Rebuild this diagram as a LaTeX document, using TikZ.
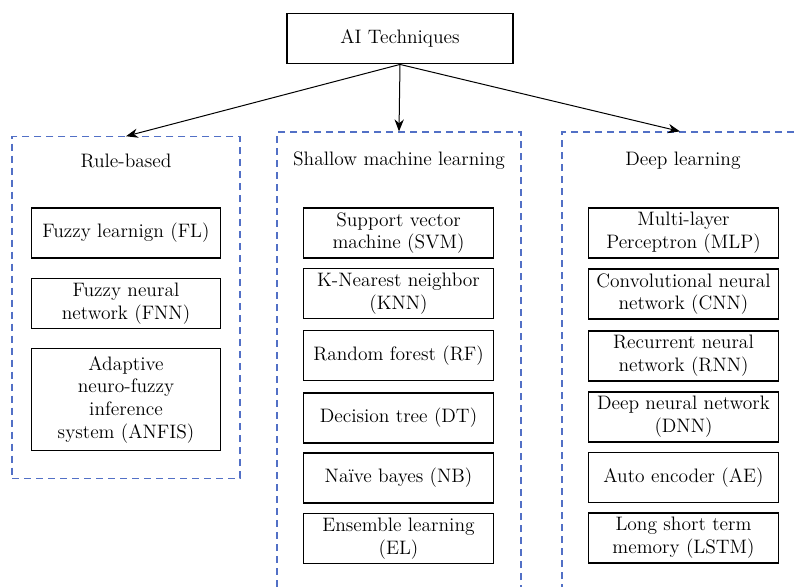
\documentclass[tikz,border=0pt]{standalone}
\usepackage{tikz}
\usetikzlibrary{arrows.meta}
\definecolor{dashblue}{RGB}{82,112,198}

\begin{document}
\begin{tikzpicture}[x=0.75pt, y=-0.75pt,
        every node/.style={font=\fontsize{14.6}{17}\selectfont},
        tech/.style={rectangle, draw, line width=0.9pt, align=center, inner sep=1pt, minimum width=142pt, minimum height=37.5pt},
        group/.style={rectangle, draw=dashblue, dash pattern=on 5.5pt off 3.5pt, line width=0.9pt, inner sep=0pt},
        link/.style={-{Stealth[length=9pt, width=7pt]}, line width=0.75pt}]
        \useasboundingbox (0, 0) rectangle (796, 586);
        \clip (0, 0) rectangle (796, 586);
        % root
        \node[tech, minimum width=169.5pt, minimum height=38pt] (ai) at (400, 38.5) {AI Techniques};
        % groups
        \node[group, minimum width=171pt, minimum height=256pt] (rb) at (126, 307.5) {};
        \node[group, minimum width=183pt, minimum height=351pt] (sml) at (399, 366) {};
        \node[group, minimum width=177pt, minimum height=351pt] (dl) at (680, 366) {};
        \node (rbt) at (126, 161) {Rule-based};
        \node (smlt) at (399, 161) {Shallow machine learning};
        \node (dlt) at (683, 161) {Deep learning};
        \draw[link] (ai.south) -- (rb.north);
        \draw[link] (ai.south) -- (sml.north);
        \draw[link] (ai.south) -- (dl.north);
        % Rule-based
        \node[tech] (rb1) at (126, 233) {Fuzzy learnign (FL)};
        \node[tech] (rb2) at (126, 303.5) {Fuzzy neural\\network (FNN)};
        \node[tech, minimum height=77pt] (rb3) at (126, 399.5) {Adaptive\\neuro-fuzzy\\inference\\system (ANFIS)};
        % Shallow machine learning
        \node[tech, minimum width=143pt] (sml1) at (398.5, 233) {Support vector\\machine (SVM)};
        \node[tech, minimum width=143pt] (sml2) at (398.5, 293.5) {K-Nearest neighbor\\(KNN)};
        \node[tech, minimum width=143pt] (sml3) at (398.5, 355.5) {Random forest (RF)};
        \node[tech, minimum width=143pt] (sml4) at (398.5, 418) {Decision tree (DT)};
        \node[tech, minimum width=143pt] (sml5) at (398.5, 478) {Naïve bayes (NB)};
        \node[tech, minimum width=143pt] (sml6) at (398.5, 538.5) {Ensemble learning\\(EL)};
        % Deep learning
        \node[tech] (dl1) at (683.5, 233) {Multi-layer\\Perceptron (MLP)};
        \node[tech] (dl2) at (683.5, 294) {Convolutional neural\\network (CNN)};
        \node[tech] (dl3) at (683.5, 356) {Recurrent neural\\network (RNN)};
        \node[tech] (dl4) at (683.5, 417) {Deep neural network\\(DNN)};
        \node[tech] (dl5) at (683.5, 477.5) {Auto encoder (AE)};
        \node[tech] (dl6) at (683.5, 538) {Long short term\\memory (LSTM)};
    \end{tikzpicture}
\end{document}
